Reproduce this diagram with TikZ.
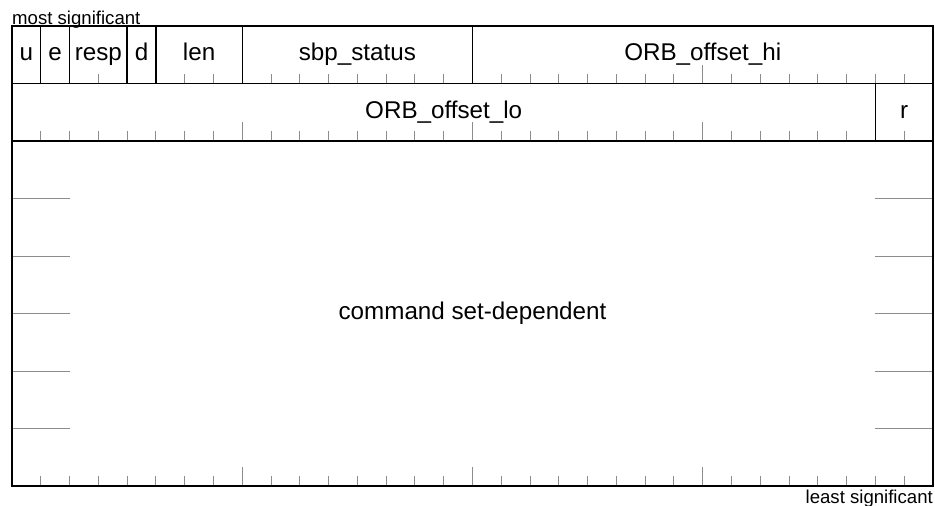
\documentclass[tikz,border=0pt]{standalone}
\usepackage{fontspec}
\setmainfont{Liberation Sans}
\definecolor{tickgray}{HTML}{8C8C8C}
\begin{document}
\begin{tikzpicture}[x=1pt,y=-1pt,
  field/.style={draw=black,line width=1.3pt,inner sep=0pt,outer sep=0pt,
    minimum height=57.5pt,text height=16.5pt,text depth=5pt,
    font=\fontsize{24.2}{29}\selectfont,anchor=north west},
  tickline/.style={draw=tickgray,line width=1pt},
  small/.style={inner sep=0pt,font=\fontsize{18.6}{22}\selectfont}]
\useasboundingbox (0,0) rectangle (935,506);
\def\bw{28.78125}
% ticks
\foreach \i in {3,6,7,9,10,11,12,13,14,15,17,18,19,20,21,22,23,24,25,26,27,28,29,30,31}{
  \pgfmathsetmacro\h{mod(\i,8)==0 ? 19 : 10}
  \draw[tickline] ({12+\i*\bw},83.5) -- ++(0,-\h);}
\foreach \i in {1,...,29,31}{
  \pgfmathsetmacro\h{mod(\i,8)==0 ? 19 : 10}
  \draw[tickline] ({12+\i*\bw},141) -- ++(0,-\h);}
\foreach \i in {1,...,31}{
  \pgfmathsetmacro\h{mod(\i,8)==0 ? 19 : 10}
  \draw[tickline] ({12+\i*\bw},486) -- ++(0,-\h);}
\foreach \y in {198.5,256,313.5,371,428.5}{
  \draw[tickline] (12,\y) -- ({12+2*\bw},\y);
  \draw[tickline] ({933-2*\bw},\y) -- (933,\y);}
% row 1
\node[field,minimum width=1*\bw] (u) at (12,26) {u};
\node[field,minimum width=1*\bw] (e) at ({12+1*\bw},26) {e};
\node[field,minimum width=2*\bw] (resp) at ({12+2*\bw},26) {resp};
\node[field,minimum width=1*\bw] (d) at ({12+4*\bw},26) {d};
\node[field,minimum width=3*\bw] (len) at ({12+5*\bw},26) {len};
\node[field,minimum width=8*\bw] (sbp) at ({12+8*\bw},26) {sbp\_status};
\node[field,minimum width=16*\bw] (hi) at ({12+16*\bw},26) {ORB\_offset\_hi};
% row 2
\node[field,minimum width=30*\bw] (lo) at (12,83.5) {ORB\_offset\_lo};
\node[field,minimum width=2*\bw] (r) at ({12+30*\bw},83.5) {r};
% command block
\node[field,minimum width=32*\bw,minimum height=345pt] (cmd) at (12,141) {command set-dependent};
% captions
\node[small,anchor=base west] (ms) at (12,24) {most significant};
\node[small,anchor=base east] (ls) at (933,503.5) {least significant};
\end{tikzpicture}
\end{document}
